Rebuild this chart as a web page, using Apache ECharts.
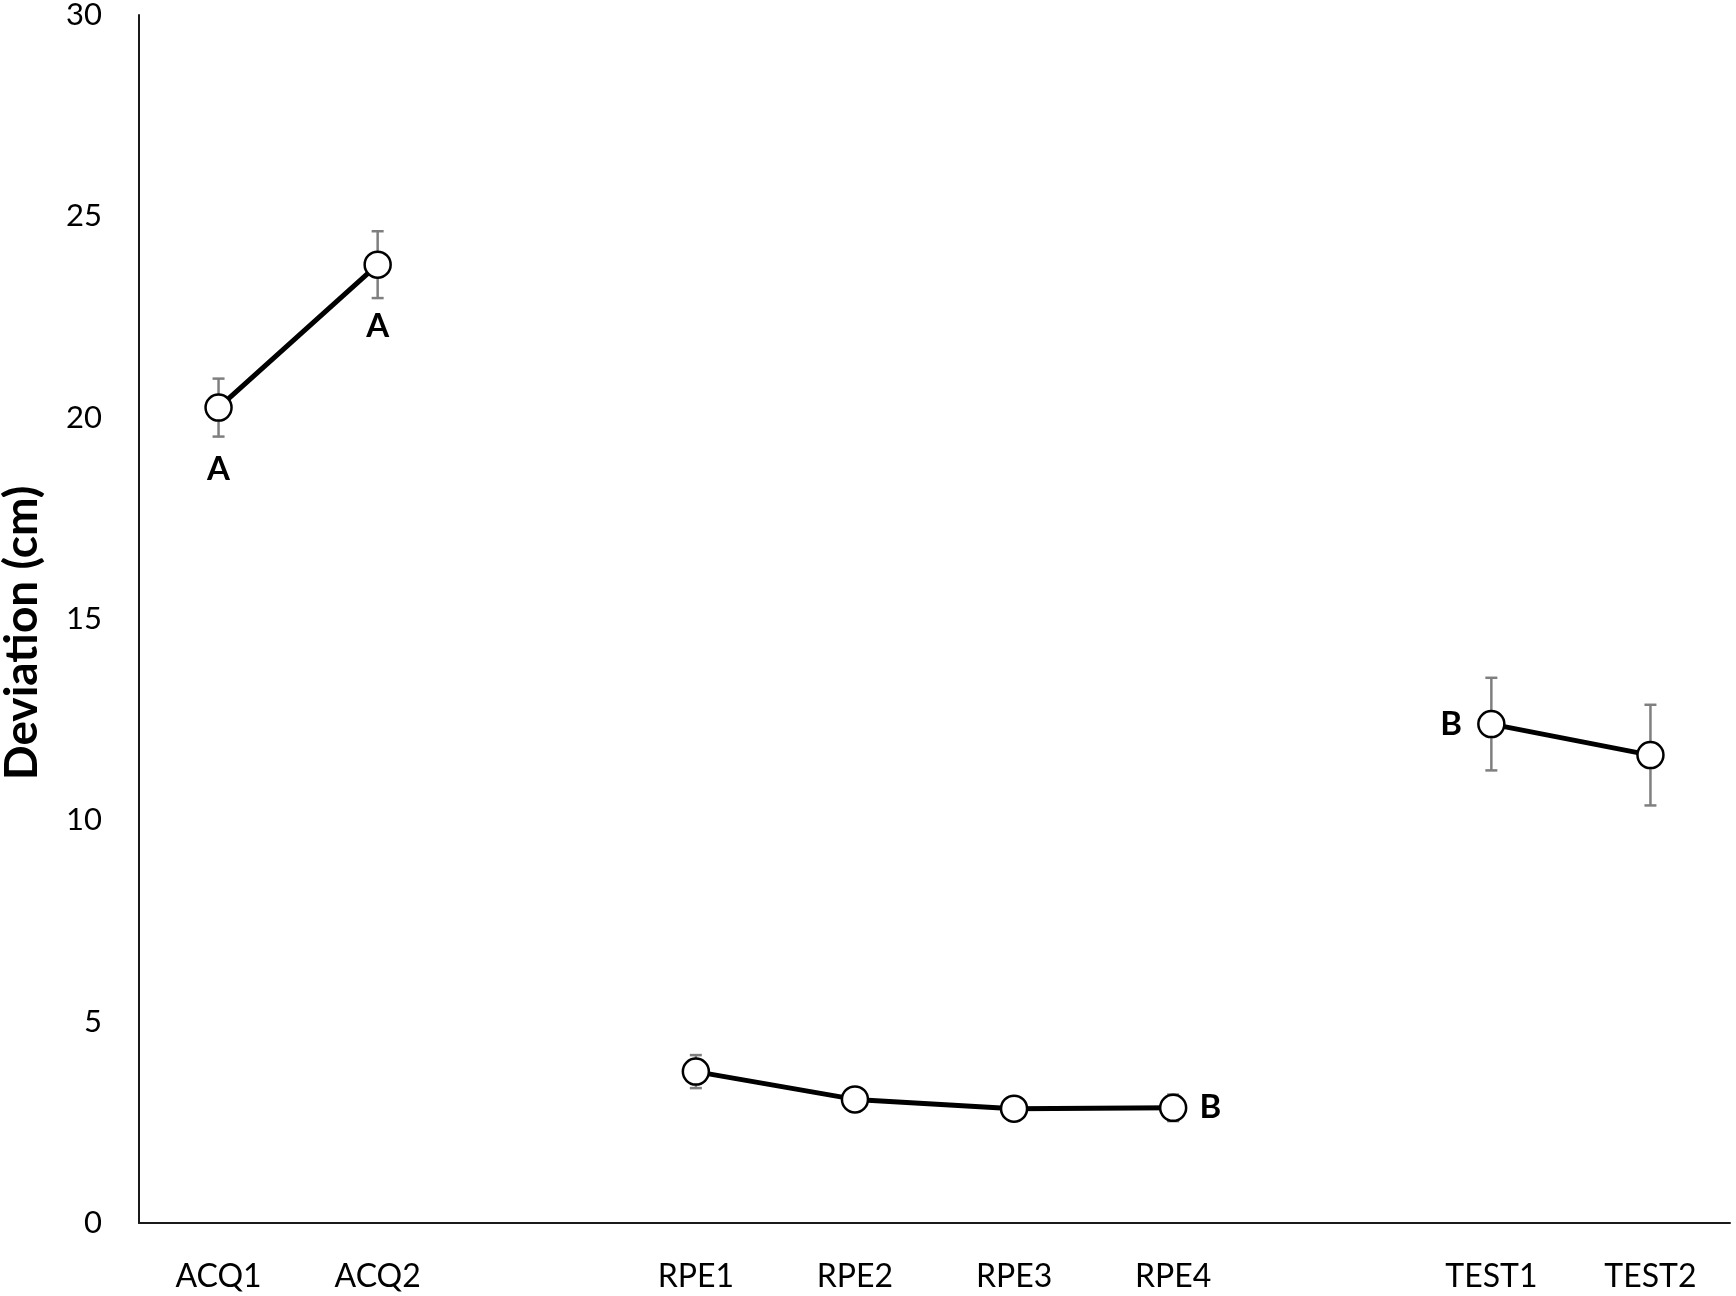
<!DOCTYPE html>
<html>
<head>
<meta charset="utf-8">
<script src="https://cdn.jsdelivr.net/npm/echarts@6/dist/echarts.min.js"></script>
<style>
  html, body { margin: 0; padding: 0; background: #fff; }
  #chart { width: 1736px; height: 1296px; }
</style>
</head>
<body>
<div id="chart"></div>
<script>
// blank categories leave the gaps between the three phases
var categories = ['ACQ1', 'ACQ2', '', 'RPE1', 'RPE2', 'RPE3', 'RPE4', ' ', 'TEST1', 'TEST2']
var means = [20.25, 23.8, null, 3.76, 3.07, 2.84, 2.86, null, 12.39, 11.62]
var errors = [0.72, 0.83, null, 0.41, 0.15, 0.15, 0.33, null, 1.15, 1.25]
var letters = ['A', 'A', '', '', '', '', 'B', '', 'B', '']
var yTicks = [0, 5, 10, 15, 20, 25, 30]

var FONT = 'Lato'

// where each letter sits relative to its point
var letterPlace = {
  0: { position: 'bottom', distance: 31 },
  1: { position: 'bottom', distance: 31 },
  6: { position: 'right', distance: 12 },
  8: { position: 'left', distance: 15 }
}

var lineData = means.map(function (v, i) {
  var item = { value: v }
  if (letters[i]) {
    item.label = {
      show: true,
      formatter: letters[i],
      position: letterPlace[i].position,
      distance: letterPlace[i].distance,
      color: '#000',
      fontFamily: FONT,
      fontWeight: 'bold',
      fontSize: 33
    }
  }
  return item
})

var errData = []
means.forEach(function (v, i) {
  if (v !== null) errData.push([i, v - errors[i], v + errors[i]])
})

var myChart = echarts.init(document.getElementById('chart'))
var option = {
  animation: false,
  backgroundColor: '#fff',
  grid: {
    left: 139,
    right: 6,
    top: 15,
    bottom: 73,
    containLabel: false,
    outerBoundsMode: 'none'
  },
  graphic: [
    {
      type: 'text',
      x: 22,
      y: 633,
      rotation: Math.PI / 2,
      style: {
        text: 'Deviation (cm)',
        fill: '#000',
        font: 'bold 46px ' + FONT,
        align: 'center',
        verticalAlign: 'middle'
      }
    }
  ],
  xAxis: {
    type: 'category',
    data: categories,
    boundaryGap: true,
    axisLine: { lineStyle: { color: '#1a1a1a', width: 2 } },
    axisTick: { show: false },
    axisLabel: {
      color: '#000',
      fontFamily: FONT,
      fontSize: 32,
      margin: 38,
      interval: 0
    },
    splitLine: { show: false }
  },
  yAxis: {
    type: 'value',
    min: yTicks[0],
    max: yTicks[yTicks.length - 1],
    interval: yTicks[1] - yTicks[0],
    axisLine: { show: true, lineStyle: { color: '#1a1a1a', width: 2 } },
    axisTick: { show: false },
    axisLabel: {
      color: '#000',
      fontFamily: FONT,
      fontSize: 31,
      margin: 37
    },
    splitLine: { show: false }
  },
  series: [
    {
      type: 'custom',
      z: 1,
      data: errData,
      encode: { x: 0, y: [1, 2] },
      renderItem: function (params, api) {
        var x = api.value(0)
        var lo = api.coord([x, api.value(1)])
        var hi = api.coord([x, api.value(2)])
        var w = 6
        var style = { stroke: '#7f7f7f', lineWidth: 2.5 }
        return {
          type: 'group',
          children: [
            { type: 'line', shape: { x1: lo[0], y1: lo[1], x2: hi[0], y2: hi[1] }, style: style },
            { type: 'line', shape: { x1: hi[0] - w, y1: hi[1], x2: hi[0] + w, y2: hi[1] }, style: style },
            { type: 'line', shape: { x1: lo[0] - w, y1: lo[1], x2: lo[0] + w, y2: lo[1] }, style: style }
          ]
        }
      }
    },
    {
      type: 'line',
      z: 3,
      data: lineData,
      connectNulls: false,
      symbol: 'circle',
      symbolSize: 26,
      lineStyle: { color: '#000', width: 5 },
      itemStyle: { color: '#fff', borderColor: '#000', borderWidth: 2.5 }
    }
  ]
}
myChart.setOption(option)
</script>
</body>
</html>
